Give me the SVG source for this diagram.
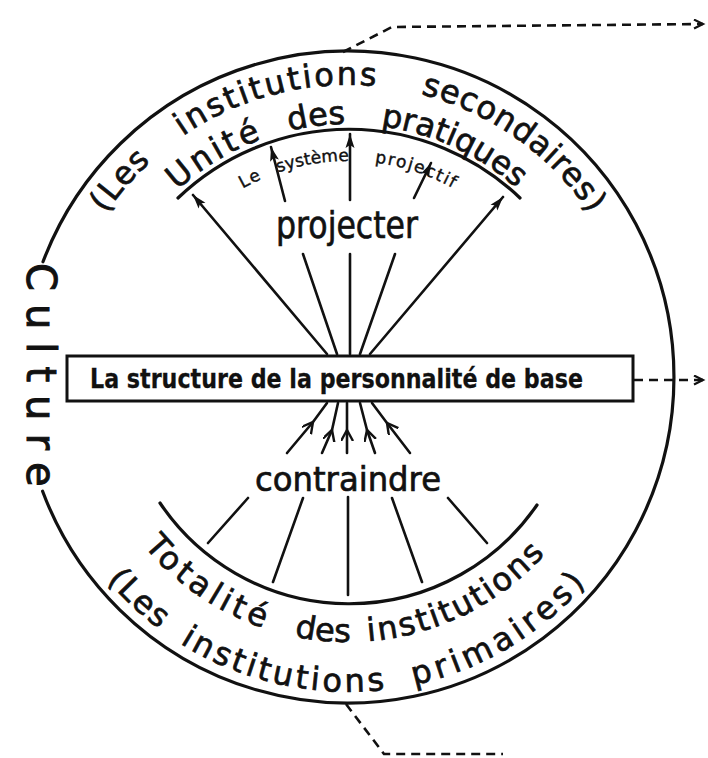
<svg xmlns="http://www.w3.org/2000/svg" xmlns:xlink="http://www.w3.org/1999/xlink" width="708" height="758" viewBox="0 0 708 758">
<style>
  .ln{fill:none;stroke:#111;stroke-linecap:round;stroke-linejoin:round}
  .big{stroke-width:3.2}
  .ar{stroke-width:2.6}
  .dash{fill:none;stroke:#111;stroke-width:2.6;stroke-dasharray:9 6}
  text{font-family:"DejaVu Sans","Liberation Sans",sans-serif;fill:#111;stroke:#111;stroke-width:0.7px}
  .t32{font-size:32px}
  .t17{font-size:17px;stroke-width:0.4px}
</style>
<defs>
  <marker id="ah" markerUnits="userSpaceOnUse" markerWidth="16" markerHeight="12" refX="14" refY="5" orient="auto">
    <path d="M0,0.5 L14,5 L0,9.5 L3,5 z" fill="#111"/>
  </marker>
  <marker id="chev" markerUnits="userSpaceOnUse" markerWidth="16" markerHeight="14" refX="11" refY="6" orient="auto">
    <path d="M0,0 L11,6 L0,12" fill="none" stroke="#111" stroke-width="2.4"/>
  </marker>
  <marker id="open" markerUnits="userSpaceOnUse" markerWidth="14" markerHeight="12" refX="10" refY="5" orient="auto">
    <path d="M1,0.5 L10,5 L1,9.5" fill="none" stroke="#111" stroke-width="2.2"/>
  </marker>
  <path id="pOT" d="M56,377 A292,292 0 0 1 640,377"/>
  <path id="pMT" d="M95,377 A253,253 0 0 1 601,377"/>
  <path id="pST" d="M132,377 A216,216 0 0 1 564,377"/>
  <path id="pIB" d="M83,377 A265,265 0 0 0 613,377"/>
  <path id="pOB" d="M33,377 A315,315 0 0 0 663,377"/>
</defs>
<rect width="708" height="758" fill="#fff"/>

<g id="culture">
  <path class="ln big" d="M43,261.8 A326,326 0 1 1 42.6,491.2"/>
  <text transform="translate(27,263) rotate(90)" style="font-size:40px;letter-spacing:13px;stroke-width:1px">Culture</text>
  <text class="t32" style="letter-spacing:1px"><textPath xlink:href="#pOT" startOffset="173">(Les</textPath></text>
  <text class="t32" style="letter-spacing:2.3px"><textPath xlink:href="#pOT" startOffset="283">institutions</textPath></text>
  <text class="t32" style="letter-spacing:0.7px"><textPath xlink:href="#pOT" startOffset="532">secondaires)</textPath></text>
  <text class="t32" style="letter-spacing:2px"><textPath xlink:href="#pOB" startOffset="220">(Les</textPath></text>
  <text class="t32" style="letter-spacing:3.3px"><textPath xlink:href="#pOB" startOffset="317">institutions</textPath></text>
  <text class="t32" style="letter-spacing:4.4px"><textPath xlink:href="#pOB" startOffset="561">primaires)</textPath></text>
</g>

<g id="pratiques">
  <path class="ln big" d="M178,198 A247,247 0 0 1 520,198"/>
  <text class="t32" style="letter-spacing:3.5px"><textPath xlink:href="#pMT" startOffset="210">Unité</textPath></text>
  <text class="t32"><textPath xlink:href="#pMT" startOffset="338">des</textPath></text>
  <text class="t32"><textPath xlink:href="#pMT" startOffset="430">pratiques</textPath></text>
  <text class="t17" style="letter-spacing:1.5px"><textPath xlink:href="#pST" startOffset="229">Le</textPath></text>
  <text class="t17"><textPath xlink:href="#pST" startOffset="268">système</textPath></text>
  <text class="t17" style="letter-spacing:1.6px"><textPath xlink:href="#pST" startOffset="366">projectif</textPath></text>
</g>

<g id="personnalite">
  <rect x="67" y="356" width="566" height="45" fill="none" stroke="#111" stroke-width="3"/>
  <text x="90" y="388" style="font-size:26px;font-weight:bold;stroke-width:0.3px" textLength="493" lengthAdjust="spacingAndGlyphs">La structure de la personnalité de base</text>
</g>

<g id="primaires">
  <path class="ln big" d="M160,503 A228,228 0 0 0 537,505"/>
  <text class="t32" style="letter-spacing:4.4px"><textPath xlink:href="#pIB" startOffset="183">Totalité</textPath></text>
  <text class="t32"><textPath xlink:href="#pIB" startOffset="362">des</textPath></text>
  <text class="t32" style="letter-spacing:2.2px"><textPath xlink:href="#pIB" startOffset="436">institutions</textPath></text>
</g>

<g id="connectors">
  <line class="ln ar" x1="327" y1="354" x2="193" y2="195" marker-end="url(#ah)"/>
  <line class="ln ar" x1="337" y1="354" x2="303" y2="254"/>
  <line class="ln ar" x1="285" y1="201" x2="271" y2="147" marker-end="url(#ah)"/>
  <line class="ln ar" x1="350" y1="354" x2="350" y2="254"/>
  <line class="ln ar" x1="350" y1="200" x2="350" y2="134" marker-end="url(#ah)"/>
  <line class="ln ar" x1="360" y1="354" x2="395" y2="254"/>
  <line class="ln ar" x1="414" y1="198" x2="431" y2="163" marker-end="url(#ah)"/>
  <line class="ln ar" x1="370" y1="354" x2="503" y2="197" marker-end="url(#ah)"/>
  <text x="347" y="238" text-anchor="middle" style="font-size:38px" textLength="142" lengthAdjust="spacingAndGlyphs">projecter</text>

  <polyline class="ln ar" points="287,453 313,422 327,403" marker-mid="url(#chev)"/>
  <polyline class="ln ar" points="322,453 332,430 338,403" marker-mid="url(#chev)"/>
  <polyline class="ln ar" points="347,453 347,430 347,403" marker-mid="url(#chev)"/>
  <polyline class="ln ar" points="375,453 367,430 360,403" marker-mid="url(#chev)"/>
  <polyline class="ln ar" points="410,453 387,423 372,403" marker-mid="url(#chev)"/>
  <text x="348" y="491" text-anchor="middle" style="font-size:33px" textLength="186" lengthAdjust="spacingAndGlyphs">contraindre</text>
  <line class="ln ar" x1="248" y1="498" x2="208" y2="543"/>
  <line class="ln ar" x1="303" y1="498" x2="273" y2="582"/>
  <line class="ln ar" x1="348" y1="497" x2="348" y2="595"/>
  <line class="ln ar" x1="392" y1="498" x2="422" y2="582"/>
  <line class="ln ar" x1="448" y1="498" x2="487" y2="543"/>

  <path class="dash" d="M343,52 L392,27 L703,24" marker-end="url(#open)"/>
  <path class="dash" d="M634,380 L703,380" marker-end="url(#open)"/>
  <path class="dash" d="M346,704 L384,754 L503,754"/>
</g>
</svg>
